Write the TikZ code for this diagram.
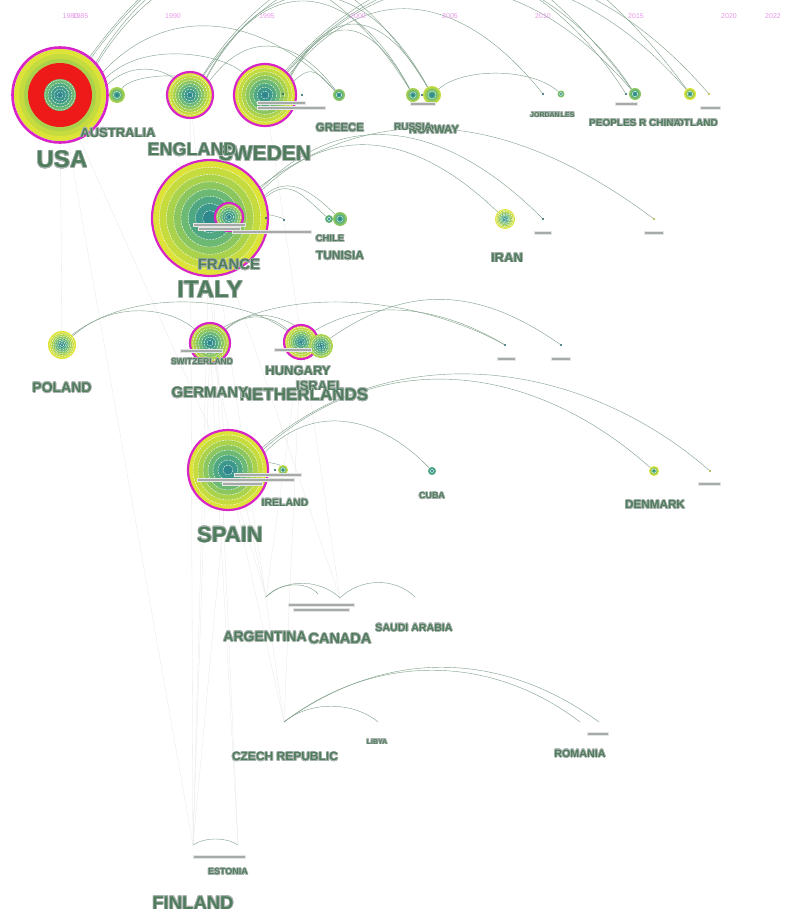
\documentclass[tikz,border=0pt]{standalone}
\usepackage{fontspec}
\setmainfont{Liberation Sans}
\usepackage{contour}
\contourlength{0.7pt}
\definecolor{rc1}{RGB}{45,135,140}
\definecolor{rc2}{RGB}{60,152,140}
\definecolor{rc3}{RGB}{80,168,130}
\definecolor{rc4}{RGB}{108,185,115}
\definecolor{rc5}{RGB}{140,198,95}
\definecolor{rc6}{RGB}{170,210,75}
\definecolor{rc7}{RGB}{198,220,62}
\definecolor{rc8}{RGB}{222,228,55}
\definecolor{magc}{RGB}{215,35,200}
\definecolor{usared}{RGB}{238,25,25}
\definecolor{labc}{RGB}{80,124,94}
\definecolor{haloc}{RGB}{170,180,175}
\definecolor{arcc}{RGB}{130,162,140}
\definecolor{yearc}{RGB}{232,150,232}
\definecolor{tagc}{RGB}{165,172,168}
\pgfdeclarelayer{background}
\pgfdeclarelayer{paper}
\pgfsetlayers{paper,background,main}
\tikzset{
  cnode/.style={circle, inner sep=0pt, draw=none},
  dotn/.style={circle, inner sep=0pt, minimum size=2.4pt, fill=rc1!70!black},
  ringw/.style={white, line width=0.35pt, dash pattern=on 2pt off 1pt},
  mag/.style={draw=magc, line width=2.2pt},
  nomag/.style={draw=none},
  arcl/.style={draw=arcc, line width=0.42pt},
  faint/.style={draw=gray!18, line width=0.3pt},
  tagbox/.style={rectangle, fill=tagc, draw=gray!20, line width=0.4pt, inner sep=0pt},
  lab/.style={text=labc, inner sep=0pt},
  yr/.style={text=yearc, font=\fontsize{7}{7}\selectfont, inner sep=0pt}
}
\newcommand{\treering}[6]{%
  \foreach \k in {#5,...,1}{\fill[rc\k] (#2,#3) circle ({#4*\k/#5});}
  \pgfmathtruncatemacro\topm{#5-1}
  \pgfmathtruncatemacro\bigr{#4>=10 ? 1 : 0}
  \ifnum\bigr=1
    \foreach \k in {1,...,\topm}{\draw[ringw] (#2,#3) circle ({#4*\k/#5});}
  \else
    \draw[white, line width=0.3pt] (#2,#3) circle ({#4*0.45});
  \fi
  \node[cnode, minimum size=#4*2pt] (#1) at (#2,#3) {};
  \draw[#6] (#2,#3) circle (#4);
}
\newcommand{\arcc}[4]{\draw[arcl] (#1) .. controls +(#3,-#4) and +(-#3,-#4) .. (#2);}
\newcommand{\clabel}[5]{\node[lab, font=\bfseries\fontsize{#4}{#4}\selectfont] (#1) at (#2,#3) {\contour{haloc}{#5}};}
\newcommand{\tagbar}[5]{\node[tagbox, minimum width=#4pt, minimum height=#5pt] (#1) at (#2,#3) {};}
\begin{document}
\begin{tikzpicture}[x=1pt,y=-1pt]
\useasboundingbox (0,0) rectangle (787,913);
\begin{pgfonlayer}{paper}
\fill[white] (0,0) rectangle (787,913);
\end{pgfonlayer}

% years
\node[yr] (y1980) at (70.5,16) {1980};
\node[yr] (y1985) at (80.5,16) {1985};
\node[yr] (y1990) at (173,16) {1990};
\node[yr] (y1995) at (267,16) {1995};
\node[yr] (y2000) at (358,16) {2000};
\node[yr] (y2005) at (450,16) {2005};
\node[yr] (y2010) at (543,16) {2010};
\node[yr] (y2015) at (636,16) {2015};
\node[yr] (y2020) at (729,16) {2020};
\node[yr] (y2022) at (773,16) {2022};

% USA
\fill[rc8] (60,95) circle (46);
\fill[rc7] (60,95) circle (41);
\fill[rc6] (60,95) circle (36);
\fill[usared] (60,95) circle (32);
\fill[rc4] (60,95) circle (16);
\fill[rc3] (60,95) circle (12);
\fill[rc2] (60,95) circle (8);
\fill[rc1] (60,95) circle (4);
\foreach \r in {3,6,9,12,15}{\draw[ringw] (60,95) circle (\r);}
\node[cnode, minimum size=96pt] (usa) at (60,95) {};
\draw[mag, line width=2.6pt] (60,95) circle (47.5);

% row 1
\treering{aus}{117}{95}{8}{6}{nomag}
\treering{eng}{190}{95}{23}{8}{mag}
\treering{swe}{265}{95}{31}{8}{mag}
\node[dotn] (d283) at (283,94) {};
\node[dotn] (d302) at (302,95) {};
\treering{gre}{339}{95}{6}{5}{nomag}
\treering{rus}{413}{95}{7}{6}{nomag}
\node[dotn] (d422) at (422,95) {};
\treering{nor}{432}{95}{9}{7}{nomag}
\node[dotn] (jor) at (543,94) {};
\treering{wal}{561}{94}{3.5}{5}{nomag}
\node[dotn] (d626) at (626,94) {};
\treering{chn}{635}{94}{6}{5}{nomag}
\treering{sco}{690}{94}{6}{8}{nomag}
\node[dotn, fill=rc8!80!black] (d709) at (709,94) {};

% row 2
\treering{ita}{210}{218}{58}{8}{mag}
\treering{fra}{229}{217}{14}{6}{mag}
\node[dotn] (d266) at (266,218) {};
\node[dotn] (d284) at (284,220) {};
\treering{chi}{329}{219}{4}{4}{nomag}
\treering{tun}{340}{219}{7}{5}{nomag}
\treering{ira}{505}{219}{10}{8}{nomag}
\node[dotn] (zam) at (543,219) {};
\node[dotn, fill=rc7!80!black] (vie) at (654,219) {};

% row 3
\treering{pol}{62}{345}{14}{8}{nomag}
\treering{swi}{210}{343}{20}{7}{mag}
\treering{hun}{301}{342}{17}{8}{mag}
\treering{isr}{321}{346}{12}{6}{nomag}
\node[dotn] (d505) at (505,345) {};
\node[dotn] (d561) at (561,345) {};

% row 4
\treering{spa}{228}{470}{40}{8}{mag}
\node[dotn] (d275) at (275,470) {};
\treering{ire}{283}{470}{5}{7}{nomag}
\treering{cub}{432}{471}{4}{3}{nomag}
\treering{den}{654}{471}{5}{8}{nomag}
\node[dotn, fill=rc7!80!black] (col) at (710,471) {};

% rows 5-7 anchors
\coordinate (arg) at (266,597);
\coordinate (can) at (340,598);
\coordinate (sau) at (415,597);
\coordinate (r5b) at (318,594);
\coordinate (cze) at (284,722);
\coordinate (lib) at (378,722);
\coordinate (rom) at (580,722);
\coordinate (cyp) at (599,722);
\coordinate (fin) at (193,845);
\coordinate (est) at (238,845);

\begin{pgfonlayer}{background}
\draw[faint] (usa) -- (pol);
\draw[faint] (usa) -- (fin);
\draw[faint] (eng) -- (fin);
\draw[faint] (ita) -- (fin);
\draw[faint] (swi) -- (fin);
\draw[faint] (spa) -- (fin);
\draw[faint] (ita) -- (cze);
\draw[faint] (spa) -- (cze);
\draw[faint] (swi) -- (arg);
\draw[faint] (spa) -- (arg);
\draw[faint] (hun) -- (cze);
\draw[faint] (eng) -- (spa);
\draw[faint] (usa) -- (spa);
\draw[faint] (swe) -- (can);
\draw[faint] (ita) -- (est);
\draw[faint] (swi) -- (est);
\draw[faint] (hun) -- (arg);
\draw[faint] (ita) -- (can);
% row 1 arcs
\arcc{usa.12}{eng}{25}{25}
\arcc{usa.20}{swe}{40}{40}
\arcc{usa.28}{gre}{70}{75}
\arcc{usa.40}{rus}{90}{147}
\arcc{usa.42}{nor}{95}{160}
\arcc{usa.50}{chn}{160}{220}
\arcc{usa.52}{sco}{170}{235}
\arcc{aus}{eng}{15}{20}
\arcc{eng.35}{gre}{40}{55}
\arcc{eng.45}{rus}{60}{113}
\arcc{eng.47}{nor}{65}{120}
\arcc{eng.55}{chn}{110}{167}
\arcc{eng.57}{d626}{110}{175}
\arcc{swe.25}{gre}{20}{20}
\arcc{swe.35}{rus}{40}{73}
\arcc{swe.37}{nor}{45}{80}
\arcc{swe.40}{jor}{80}{100}
\arcc{swe.45}{chn}{110}{127}
\arcc{swe.47}{sco}{120}{140}
\arcc{swe.50}{d709}{130}{150}
\arcc{nor}{wal}{30}{27}
% row 2 arcs
\arcc{ita}{d284}{5}{6}
\arcc{ita.20}{chi}{25}{22}
\arcc{ita.22}{tun}{25}{24}
\arcc{ita.28}{ira}{80}{77}
\arcc{ita.30}{zam}{90}{90}
\arcc{ita.32}{vie}{130}{97}
% row 3 arcs
\arcc{pol.40}{swi}{40}{36}
\arcc{pol.45}{hun}{60}{47}
\arcc{swi.40}{hun}{25}{23}
\arcc{swi.42}{isr}{30}{27}
\arcc{hun.40}{d505}{60}{36}
\arcc{swi.50}{d505}{80}{44}
\arcc{isr.40}{d561}{80}{56}
% row 4 arcs
\arcc{spa}{ire}{5}{8}
\arcc{spa.25}{cub}{50}{53}
\arcc{spa.30}{den}{120}{107}
\arcc{spa.33}{col}{130}{113}
% rows 5-7 arcs
\arcc{arg}{can}{20}{19}
\arcc{arg}{r5b}{12}{14}
\arcc{can}{sau}{20}{20}
\arcc{cze}{rom}{90}{69}
\arcc{cze}{cyp}{100}{73}
\arcc{cze}{lib}{25}{21}
\arcc{fin}{est}{12}{8}
\end{pgfonlayer}

% small tags
\tagbar{tg1}{281}{102.5}{48}{3}
\tagbar{tg2}{291}{107.5}{68}{3}
\tagbar{tg3}{423}{103.5}{25}{3}
\tagbar{tg4}{626}{104}{22}{3}
\tagbar{tg5}{710}{108}{20}{3}
\tagbar{tg6}{219}{224.5}{52}{3}
\tagbar{tg7}{219}{229}{42}{3}
\tagbar{tg8}{272}{232}{79}{3}
\tagbar{tg9}{543}{232.5}{17}{3}
\tagbar{tg10}{654}{232.5}{19}{3}
\tagbar{tg11}{201}{350.5}{42}{3}
\tagbar{tg12}{293}{350}{37}{3}
\tagbar{tg13}{506}{358.5}{18}{3}
\tagbar{tg14}{561}{358.5}{19}{3}
\tagbar{tg15}{268}{475}{67}{3}
\tagbar{tg16}{246}{480}{97}{3}
\tagbar{tg17}{242}{484}{40}{3}
\tagbar{tg18}{709}{484}{22}{3}
\tagbar{tg19}{321}{605}{66}{3}
\tagbar{tg20}{321}{610}{56}{3}
\tagbar{tg21}{598}{734}{21}{3}
\tagbar{tg22}{219}{857}{52}{3}

% labels
\clabel{lusa}{62}{160}{24}{USA}
\clabel{laus}{118}{133}{13}{AUSTRALIA}
\clabel{lswe}{265}{154}{21}{SWEDEN}
\clabel{leng}{192}{150}{18}{ENGLAND}
\clabel{lgre}{340}{128}{11.4}{GREECE}
\clabel{lnor}{434}{130}{11.4}{NORWAY}
\clabel{lrus}{413}{127}{10}{RUSSIA}
\clabel{lwal}{562}{115}{7}{WALES}
\clabel{ljor}{545}{115}{7}{JORDAN}
\clabel{lsco}{690}{123}{10}{SCOTLAND}
\clabel{lchn}{635}{123}{10}{PEOPLES R CHINA}
\clabel{lfra}{229}{265}{15}{FRANCE}
\clabel{lita}{210}{290}{24}{ITALY}
\clabel{lchi}{330}{239}{9.5}{CHILE}
\clabel{ltun}{340}{256}{12}{TUNISIA}
\clabel{lira}{507}{258}{13}{IRAN}
\clabel{lpol}{62}{388}{14}{POLAND}
\clabel{lswi}{202}{362}{8.5}{SWITZERLAND}
\clabel{lhun}{298}{371}{13}{HUNGARY}
\clabel{lnet}{304}{395}{17}{NETHERLANDS}
\clabel{lger}{210}{393}{15}{GERMANY}
\clabel{lisr}{320}{386}{13}{ISRAEL}
\clabel{lspa}{230}{535}{22}{SPAIN}
\clabel{lire}{285}{503}{10.5}{IRELAND}
\clabel{lcub}{432}{496}{9}{CUBA}
\clabel{lden}{655}{505}{11.7}{DENMARK}
\clabel{larg}{265}{637}{14}{ARGENTINA}
\clabel{lcan}{340}{639}{14.5}{CANADA}
\clabel{lsau}{414}{628}{10.6}{SAUDI ARABIA}
\clabel{lcze}{285}{757}{12}{CZECH REPUBLIC}
\clabel{llib}{377}{742}{7}{LIBYA}
\clabel{lrom}{580}{754}{10.7}{ROMANIA}
\clabel{lest}{228}{872}{9}{ESTONIA}
\clabel{lfin}{193}{903}{18.5}{FINLAND}
\end{tikzpicture}
\end{document}
